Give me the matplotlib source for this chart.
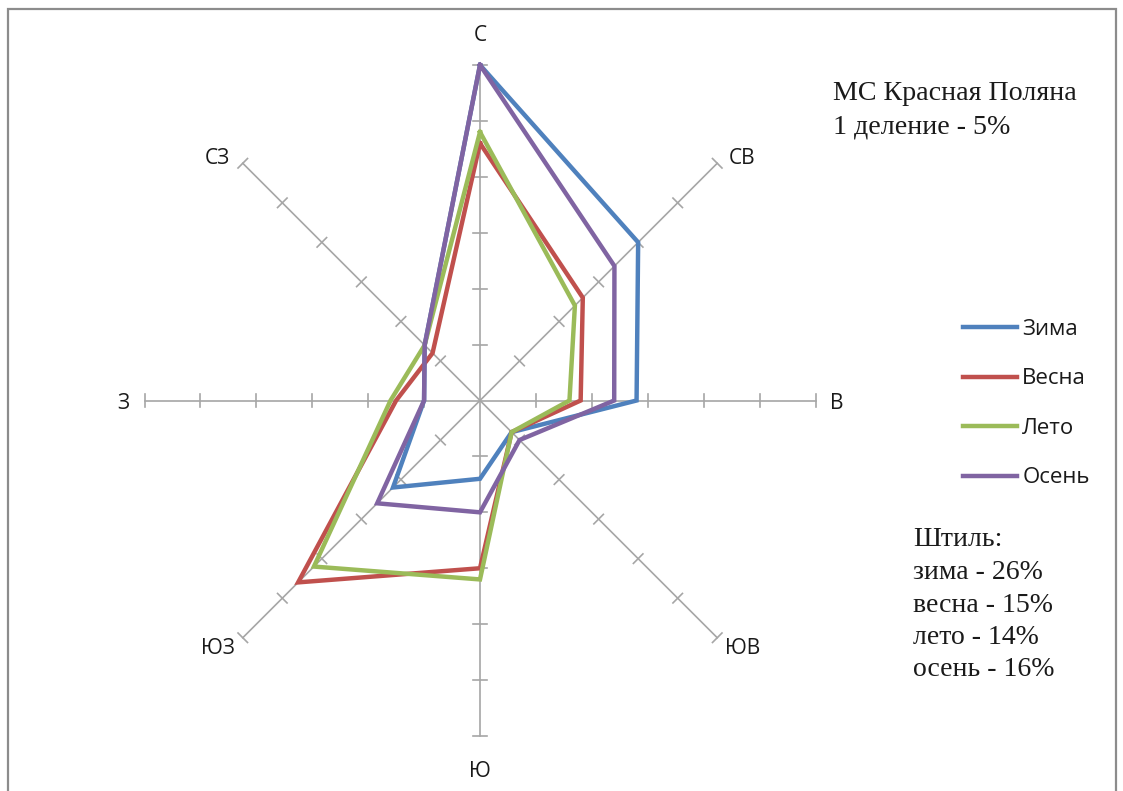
import numpy as np
import matplotlib
matplotlib.use("Agg")
import matplotlib.pyplot as plt
from matplotlib.patches import Rectangle

plt.rcParams['font.family'] = ['Open Sans', 'DejaVu Sans']

# directions, clockwise from north
directions = ["С", "СВ", "В", "ЮВ", "Ю", "ЮЗ", "З", "СЗ"]

# wind frequency, %
zima = [30, 20, 14, 4, 7, 11, 5, 7]
vesna = [23, 13, 9, 4, 15, 23, 7.5, 6]
leto = [24, 12, 8, 4, 16, 21, 8, 7]
osen = [30, 17, 12, 5, 10, 13, 5, 7]

series = [("Зима", zima, "#4F81BD"),
          ("Весна", vesna, "#C0504D"),
          ("Лето", leto, "#9BBB59"),
          ("Осень", osen, "#8064A2")]

r_ticks = [5, 10, 15, 20, 25, 30]
r_max = 30

title_lines = ["МС Красная Поляна", "1 деление - 5%"]
calm_lines = ["Штиль:", "зима - 26%", "весна - 15%", "лето - 14%", "осень - 16%"]

W, H = 1123, 791
fig = plt.figure(figsize=(W / 100, H / 100), dpi=100)
ax = fig.add_axes([0, 0, 1, 1])

# centre of the rose in pixels and pixels per percent
cx, cy = 480, 400.5
scale = 335.5 / r_max
ax.set_xlim(-cx / scale, (W - cx) / scale)
ax.set_ylim(-(H - cy) / scale, cy / scale)
ax.set_aspect("equal")
ax.axis("off")

theta = np.arange(len(directions)) * 2 * np.pi / len(directions)
ux, uy = np.sin(theta), np.cos(theta)

axis_col = "#A6A6A6"
half = 0.6
for i in range(len(directions)):
    ax.plot([0, r_max * ux[i]], [0, r_max * uy[i]], color=axis_col, lw=1.2, zorder=1)
    px, py = uy[i], -ux[i]
    for r in r_ticks:
        ax.plot([r * ux[i] - half * px, r * ux[i] + half * px],
                [r * uy[i] - half * py, r * uy[i] + half * py],
                color=axis_col, lw=1.2, zorder=1)
    diag = len(directions[i]) == 2
    kx = 33.2 if diag else 31.9
    ky = 31.0 if diag else 32.9
    ax.text(kx * ux[i], ky * uy[i] - 0.3, directions[i], ha="center", va="center",
            fontsize=15, color="#1a1a1a")

for name, vals, col in series:
    v = np.array(vals + vals[:1])
    ax.plot(v * np.append(ux, ux[0]), v * np.append(uy, uy[0]),
            color=col, lw=3.2, label=name, zorder=3, solid_joinstyle="miter")

leg = ax.legend(loc="upper left", bbox_to_anchor=(963 / W, 1 - 319 / H),
                bbox_transform=fig.transFigure, frameon=False, fontsize=16,
                handlelength=2.45, handletextpad=0.22, labelspacing=1.28,
                borderpad=0, borderaxespad=0)
for t in leg.get_texts():
    t.set_color("#1a1a1a")

serif = ["Liberation Serif", "DejaVu Serif"]
for k, line in enumerate(title_lines):
    fig.text(833 / W, 1 - (93 + 34 * k) / H, line, family=serif, fontsize=20.2,
             ha="left", va="center", color="#1a1a1a")
for k, line in enumerate(calm_lines):
    fig.text(913 / W, 1 - (540 + 32.5 * k) / H, line, family=serif, fontsize=20,
             ha="left", va="center", color="#1a1a1a")

fig.patches.append(Rectangle((7.5 / W, -0.05), (1116 - 7.5) / W, 1.05 - 8.5 / H,
                             transform=fig.transFigure, fill=False,
                             edgecolor="#8C8C8C", lw=1.6))

fig.savefig("out.png", dpi=100)
